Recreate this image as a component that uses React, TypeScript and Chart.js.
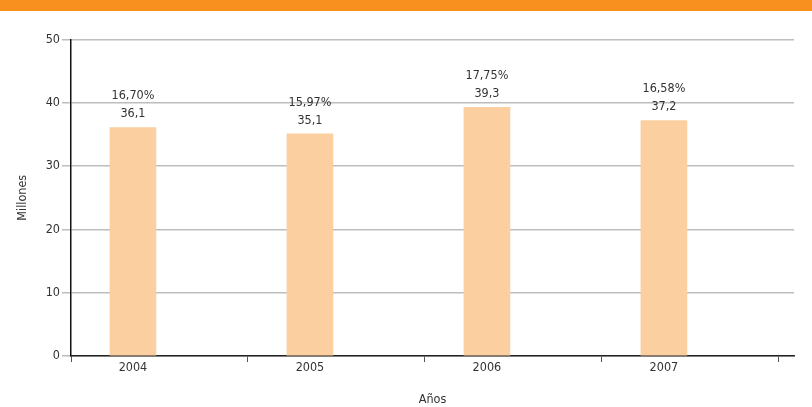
import React, { useEffect, useRef } from "react";
import { Chart, registerables } from "chart.js";

Chart.register(...registerables);

const years = ["2004", "2005", "2006", "2007"];
const values = [36.1, 35.1, 39.3, 37.2];
const percents = ["16,70%", "15,97%", "17,75%", "16,58%"];
const yTicks = [0, 10, 20, 30, 40, 50];

const FONT = "'DejaVu Sans Condensed', 'Liberation Sans Narrow', 'Liberation Sans', Arial, sans-serif";

const labelPlugin = {
  id: "barLabels",
  afterDatasetsDraw(chart: any) {
    const ctx = chart.ctx;
    const meta = chart.getDatasetMeta(0);
    ctx.save();
    ctx.fillStyle = "#333";
    ctx.font = `12.5px ${FONT}`;
    ctx.textAlign = "center";
    ctx.textBaseline = "middle";
    meta.data.forEach((bar: any, i: number) => {
      ctx.fillText(values[i].toFixed(1).replace(".", ","), bar.x, bar.y - 13.5);
      ctx.fillText(percents[i], bar.x, bar.y - 31.5);
    });
    ctx.restore();
  },
};

export default function App() {
  const ref = useRef<HTMLCanvasElement>(null);
  useEffect(() => {
    const chart = new Chart(ref.current!, {
      type: "bar",
      data: {
        datasets: [
          {
            data: values.map((v, i) => ({ x: i, y: v })),
            backgroundColor: "#FBCFA0",
            barThickness: 46,
          },
        ],
      },
      options: {
        animation: false,
        responsive: false,
        maintainAspectRatio: false,
        layout: { padding: { top: 39.5, right: 18, bottom: 0, left: 0 } },
        plugins: { legend: { display: false }, tooltip: { enabled: false } },
        scales: {
          x: {
            type: "linear",
            offset: false,
            min: -0.35,
            max: 3.735,
            bounds: "data",
            afterBuildTicks(scale: any) {
              const t: any[] = [];
              years.forEach((_, i) => {
                t.push({ value: i - 0.35 });
                t.push({ value: i });
              });
              t.push({ value: years.length - 0.35 });
              scale.ticks = t;
            },
            afterFit(scale: any) {
              scale.height = 51;
            },
            ticks: {
              autoSkip: false,
              maxRotation: 0,
              padding: -2,
              color: "#333",
              font: { family: FONT, size: 12.5 },
              callback: (v: any) => {
                const n = Number(v);
                return Number.isInteger(n) ? years[n] : "";
              },
            },
            grid: {
              offset: false,
              drawOnChartArea: false,
              tickLength: 6,
              color: (c: any) =>
                c.tick && Number.isInteger(c.tick.value) ? "rgba(0,0,0,0)" : "#555",
            },
            border: { color: "#222", width: 1.5 },
            title: {
              display: true,
              text: "Años",
              color: "#333",
              font: { family: FONT, size: 12.5 },
              padding: { top: 0, bottom: 0 },
            },
          },
          y: {
            min: 0,
            max: 50,
            afterBuildTicks(scale: any) {
              scale.ticks = yTicks.map((v) => ({ value: v }));
            },
            afterFit(scale: any) {
              scale.width = 71;
            },
            ticks: {
              padding: 2,
              color: "#333",
              font: { family: FONT, size: 12.5 },
            },
            grid: { color: "#BDBDBD", tickLength: 9, lineWidth: 1.5 },
            border: { color: "#111", width: 1.5 },
            title: {
              display: true,
              text: "Millones",
              color: "#333",
              font: { family: FONT, size: 12.5 },
              padding: { top: 15, bottom: 0 },
            },
          },
        },
      },
      plugins: [labelPlugin],
    } as any);
    return () => chart.destroy();
  }, []);
  return (
    <div style={{ position: "fixed", left: 0, top: 0, width: 812, height: 407, background: "#fff" }}>
      <canvas ref={ref} width={812} height={407} style={{ position: "absolute", left: 0, top: 0 }} />
      <div style={{ position: "absolute", left: 0, top: 0, width: 812, height: 11, background: "#F7901E" }} />
    </div>
  );
}
